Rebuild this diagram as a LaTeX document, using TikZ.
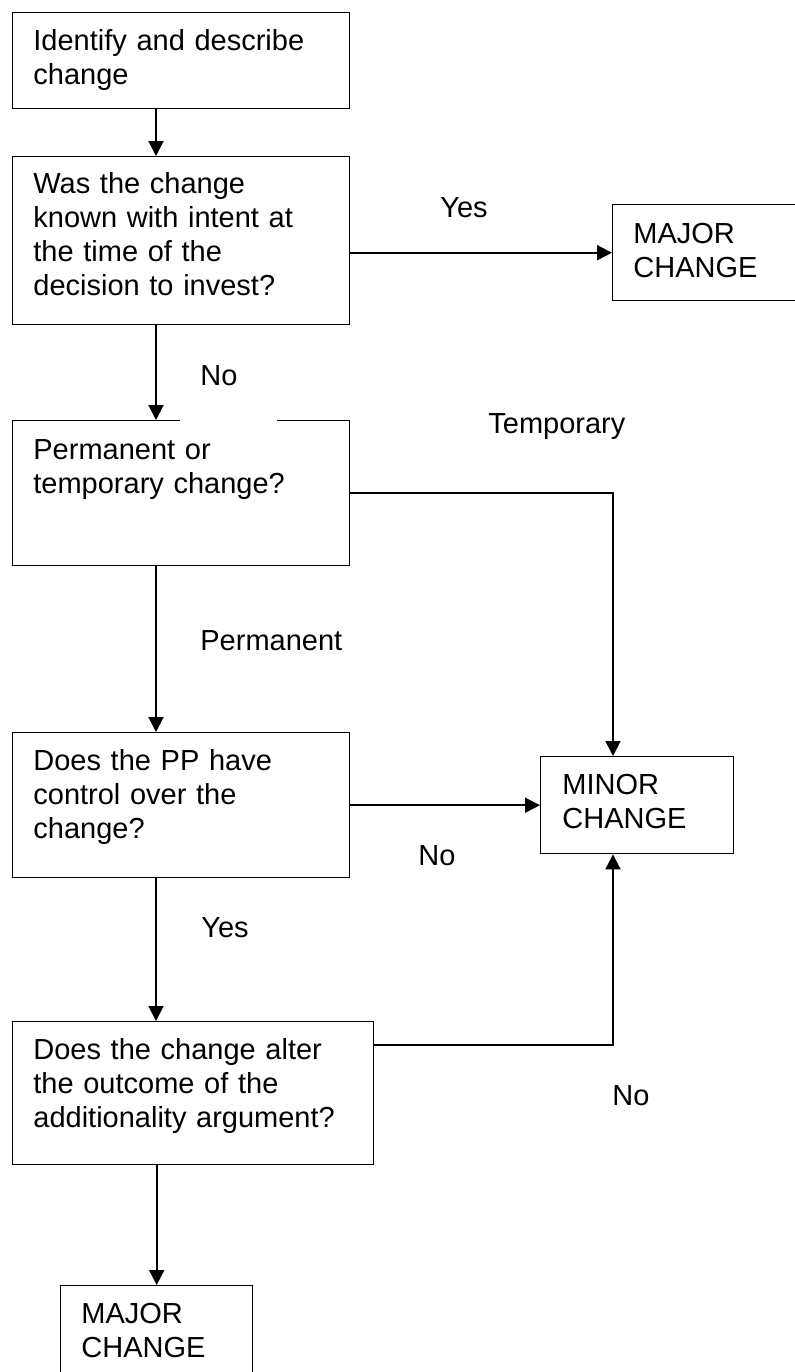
\documentclass[tikz,border=0pt]{standalone}
\usepackage{fontspec}
\setmainfont{Liberation Sans}
\usetikzlibrary{arrows.meta}
\tikzset{
    box/.style={draw, line width=.7pt, anchor=north west, inner sep=0pt},
    txt/.style={anchor=base west, inner sep=0pt, align=left, text width=170pt,
        font=\fontsize{14.5}{17}\selectfont},
    arr/.style={line width=.9pt, -{Triangle[length=7.5pt,width=7.5pt]}}
}
\begin{document}
\begin{tikzpicture}[x=.5pt, y=-.5pt]
        \clip (0,0) rectangle (795,1372);
        \coordinate (mainx) at (156,0);
        \coordinate (minx) at (613,0);
        \coordinate (alterout) at (373,1045);

        %%boxes
        \node[box, minimum width=168.5pt, minimum height=48pt] (ident) at (12,12) {};
        \node[box, minimum width=168.5pt, minimum height=84pt] (known) at (12,156) {};
        \node[box, minimum width=168.5pt, minimum height=72.5pt] (perm) at (12,420) {};
        \node[box, minimum width=168.5pt, minimum height=72.5pt] (ctrl) at (12,732) {};
        \node[box, minimum width=180.5pt, minimum height=71.5pt] (alter) at (12,1021) {};
        \node[box, minimum width=100pt, minimum height=48pt] (majortop) at (612,204) {};
        \node[box, minimum width=96.5pt, minimum height=48.5pt] (minor) at (540,756) {};
        \node[box, minimum width=96pt, minimum height=60pt] (majorbot) at (60,1285) {};
        \fill[white] (180,418.5) rectangle (277,421.5);

        %%box texts
        \node[txt] (identtxt) at (33,50) {Identify and describe\\change};
        \node[txt] (knowntxt) at (33,193) {Was the change\\known with intent at\\the time of the\\decision to invest?};
        \node[txt] (permtxt) at (33,459) {Permanent or\\temporary change?};
        \node[txt] (ctrltxt) at (33,770) {Does the PP have\\control over the\\change?};
        \node[txt] (altertxt) at (33,1059) {Does the change alter\\the outcome of the\\additionality argument?};
        \node[txt] (majortoptxt) at (633,243) {MAJOR\\CHANGE};
        \node[txt] (minortxt) at (562,794) {MINOR\\CHANGE};
        \node[txt] (majorbottxt) at (81,1323) {MAJOR\\CHANGE};

        %%labels
        \node[txt] (yesa) at (440,217) {Yes};
        \node[txt] (noa) at (200,385) {No};
        \node[txt] (templ) at (488,433) {Temporary};
        \node[txt] (perml) at (200,650) {Permanent};
        \node[txt] (nob) at (418,865) {No};
        \node[txt] (yesb) at (201,937) {Yes};
        \node[txt] (noc) at (612,1105) {No};

        %%arrows
        \draw[arr] (ident.south -| mainx) -- (known.north -| mainx);
        \draw[arr] (known.east |- majortop.west) -- (majortop.west);
        \draw[arr] (known.south -| mainx) -- (perm.north -| mainx);
        \draw[arr] (perm.east) -| (minor.north -| minx);
        \draw[arr] (perm.south -| mainx) -- (ctrl.north -| mainx);
        \draw[arr] (ctrl.east) -- (minor.west);
        \draw[arr] (ctrl.south -| mainx) -- (alter.north -| mainx);
        \draw[arr] (alterout) -| (minor.south -| minx);
        \draw[arr] (alter.south -| majorbot.north) -- (majorbot.north);
\end{tikzpicture}
\end{document}
